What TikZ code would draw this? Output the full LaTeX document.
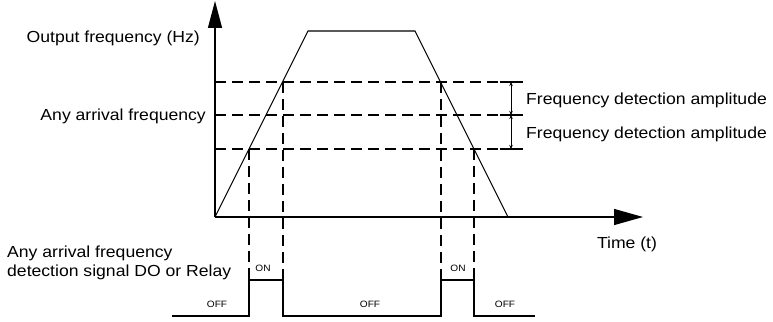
\documentclass[tikz,border=0pt]{standalone}
\usepackage{fontspec}
\setmainfont{Liberation Sans}[FakeStretch=1.1]
\usetikzlibrary{arrows.meta}
\begin{document}
\begin{tikzpicture}[x=1pt,y=-1pt,
  axisln/.style={line width=1.3pt},
  curveln/.style={line width=1.1pt, line join=miter},
  dashln/.style={line width=1.1pt, dash pattern=on 11pt off 6pt},
  tickln/.style={line width=1.1pt},
  relayln/.style={line width=1.2pt},
  amparrow/.style={line width=0.8pt, {Stealth[length=4pt,width=3.5pt]}-{Stealth[length=4pt,width=3.5pt]}},
  lbl/.style={inner sep=0pt, font=\fontsize{16}{20}\selectfont},
  small/.style={inner sep=0pt, font=\fontsize{9.2}{11}\selectfont}]
\useasboundingbox (0,0) rectangle (773,321);
% coordinates
\coordinate (O) at (215,217);
\coordinate (ytip) at (215,1);
\coordinate (xtip) at (643,217);
\coordinate (A) at (308,31);
\coordinate (B) at (415,31);
\coordinate (E) at (508,217);
% axes
\draw[axisln, -{Triangle[length=27pt,width=14pt]}] (O) -- (ytip);
\draw[axisln, -{Triangle[length=29pt,width=16pt]}] (O) -- (xtip);
% frequency curve
\draw[curveln] (O) -- (A) -- (B) -- (E);
% horizontal dashed levels
\foreach \yy in {82,115,149}{
  \draw[dashln] (215,\yy) -- (500,\yy);
  \draw[tickln] (500,\yy) -- (523,\yy);
}
% vertical dashed lines
\draw[dashln] (249,149) -- (249,280);
\draw[dashln] (283,82) -- (283,280);
\draw[dashln] (441,82) -- (441,280);
\draw[dashln] (474,149) -- (474,280);
% amplitude arrows
\coordinate (a1) at (511,82);
\coordinate (a2) at (511,115);
\coordinate (a3) at (511,149);
\draw[amparrow] (a1) -- (a2);
\draw[amparrow] (a2) -- (a3);
% relay signal
\draw[relayln] (172,316) -- (249,316) -- (249,280) -- (283,280) -- (283,316)
  -- (441,316) -- (441,280) -- (474,280) -- (474,316) -- (535,316);
% labels
\node[lbl, anchor=base east] (lout) at (200,42) {Output frequency (Hz)};
\node[lbl, anchor=base east] (larr) at (206,120) {Any arrival frequency};
\node[lbl, anchor=base west] (lamp1) at (526,104) {Frequency detection amplitude};
\node[lbl, anchor=base west] (lamp2) at (526,138) {Frequency detection amplitude};
\node[lbl, anchor=base] (ltime) at (627,248) {Time (t)};
\node[lbl, anchor=base west] (lsig1) at (7,257) {Any arrival frequency};
\node[lbl, anchor=base west] (lsig2) at (7,276) {detection signal DO or Relay};
\node[small, anchor=base] (on1) at (263,271) {ON};
\node[small, anchor=base] (on2) at (458,271) {ON};
\node[small, anchor=base] (off1) at (217,307) {OFF};
\node[small, anchor=base] (off2) at (370,307) {OFF};
\node[small, anchor=base] (off3) at (505,307) {OFF};
\end{tikzpicture}
\end{document}
